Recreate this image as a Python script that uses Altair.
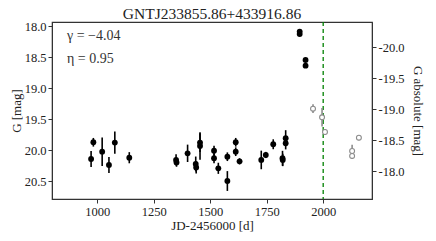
import altair as alt
import pandas as pd

# Detections (black) -- JD-2456000, G mag, error
det_t = [973, 983, 1022, 1052, 1078, 1142, 1349, 1351, 1400, 1436, 1438, 1455, 1455,
         1517, 1517, 1536, 1576, 1576, 1613, 1613, 1630, 1726, 1746, 1779, 1820, 1821,
         1834, 1834, 1896, 1896, 1922, 1922]
det_mag = [20.145, 19.875, 20.027, 20.241, 19.88, 20.124, 20.16, 20.2, 20.053, 20.225, 20.28,
           19.88, 19.935, 20.011, 20.133, 20.295, 20.108, 20.5, 19.875, 20.027, 20.182,
           20.16, 20.08, 19.907, 20.133, 20.16, 19.81, 19.89, 18.09, 18.13, 18.548, 18.64]
det_err = [0.13, 0.07, 0.23, 0.13, 0.18, 0.09, 0.09, 0.07, 0.14, 0.12, 0.1, 0.15, 0.22,
           0.08, 0.08, 0.09, 0.07, 0.16, 0.07, 0.07, 0.05, 0.15, 0.05, 0.08, 0.12, 0.1,
           0.13, 0.1, 0.03, 0.03, 0.03, 0.03]

# Later points (open grey)
late_t = [1955, 1995, 2008, 2128, 2128, 2158]
late_mag = [19.333, 19.472, 19.709, 20.016, 20.096, 19.801]
late_err = [0.07, 0.15, 0.05, 0.1, 0.05, 0.04]

x_ticks = [1000, 1250, 1500, 1750, 2000]
y_ticks = [18.0, 18.5, 19.0, 19.5, 20.0, 20.5]
abs_ticks = [-20.0, -19.5, -19.0, -18.5, -18.0]
dist_mod = 38.344
x_dom = [800, 2216]
y_dom = [17.935, 20.79]
vline_t = [2000]
title_txt = ["GNTJ233855.86+433916.86"]
ann_lines = ["γ = −4.04", "η = 0.95"]

FONT = "Liberation Serif"

det = pd.DataFrame({"t": det_t, "mag": det_mag, "err": det_err})
late = pd.DataFrame({"t": late_t, "mag": late_mag, "err": late_err})

xscale = alt.Scale(domain=x_dom, nice=False, zero=False)
yscale = alt.Scale(domain=y_dom, reverse=True, nice=False, zero=False)
xaxis = alt.Axis(values=x_ticks, format="d", title="JD-2456000 [d]", titlePadding=2)
yaxis = alt.Axis(values=y_ticks, format=".1f", title="G [mag]", titlePadding=1)

X = alt.X("t:Q", scale=xscale, axis=xaxis)
Y = alt.Y("mag:Q", scale=yscale, axis=yaxis)


def bars(df, color):
    return alt.Chart(df).transform_calculate(
        lo="datum.mag - datum.err", hi="datum.mag + datum.err"
    ).mark_rule(color=color, strokeWidth=1.6).encode(
        x=X, y=alt.Y("lo:Q", scale=yscale, axis=yaxis), y2="hi:Q")


det_bars = bars(det, "black")
det_pts = alt.Chart(det).mark_circle(color="black", size=34, opacity=1).encode(x=X, y=Y)
late_bars = bars(late, "#8c8c8c")
late_pts = alt.Chart(late).mark_point(shape="circle", color="#8c8c8c", fill="white",
                                      filled=False, size=24, strokeWidth=1.1,
                                      opacity=1).encode(x=X, y=Y)

vline = alt.Chart(pd.DataFrame({"t": vline_t})).mark_rule(
    color="green", strokeDash=[4, 3], strokeWidth=1.3).encode(x=X)

ann_layers = []
for i, line in enumerate(ann_lines):
    ann_layers.append(
        alt.Chart(pd.DataFrame({"txt": [line]})).mark_text(
            align="left", baseline="middle", fontSize=14, color="#333", font=FONT
        ).encode(x=alt.value(15), y=alt.value(14 + 23 * i), text="txt:N"))

ttl = alt.Chart(pd.DataFrame({"txt": title_txt})).mark_text(
    align="center", baseline="alphabetic", fontSize=15.5, color="#222", font=FONT
).encode(x=alt.value(160), y=alt.value(-3), text="txt:N")

left = alt.layer(vline, det_bars, det_pts, late_bars, late_pts)

right = alt.Chart(det).transform_calculate(absmag=f"datum.mag - {dist_mod}").mark_point(
    opacity=0).encode(
    x=X,
    y=alt.Y("absmag:Q",
            scale=alt.Scale(domain=[y_dom[0] - dist_mod, y_dom[1] - dist_mod],
                            reverse=True, nice=False, zero=False),
            axis=alt.Axis(orient="right", values=abs_ticks, title="G absolute [mag]",
                          labelExpr="'-' + format(abs(datum.value), '.1f')",
                          titlePadding=6)))

chart = alt.layer(left, right, *ann_layers, ttl).resolve_scale(y="independent").properties(
    width=320, height=177,
    autosize=alt.AutoSizeParams(type="none"),
    padding={"left": 44, "top": 14, "right": 56, "bottom": 34},
).configure(font=FONT).configure_axis(
    grid=False, labelFontSize=12.5, titleFontSize=13, titleFontWeight="normal",
    labelColor="#222", titleColor="#222", tickColor="#333", domainColor="#333",
    tickSize=4, labelPadding=2, labelFont=FONT, titleFont=FONT
).configure_view(stroke="#333", strokeWidth=1.2)

chart.save("out.html", embed_options={"renderer": "svg", "actions": False})
